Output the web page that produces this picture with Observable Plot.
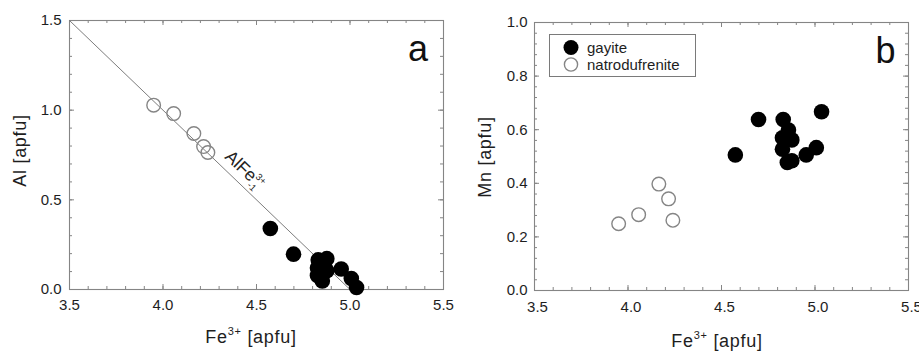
<!DOCTYPE html>
<html><head><meta charset="utf-8">
<script src="https://cdn.jsdelivr.net/npm/d3@7"></script>
<script src="https://cdn.jsdelivr.net/npm/@observablehq/plot@0.6"></script>
<style>
html,body{margin:0;padding:0;background:#fff;overflow:hidden;}
#wrap{position:relative;width:919px;height:352px;font-family:"Liberation Sans",Arial,sans-serif;}
#wrap > svg{position:absolute;top:0;overflow:visible;}
#legend{position:absolute;left:549px;top:34px;width:147px;height:43px;box-sizing:border-box;border:1px solid #7a7a7a;background:#fff;}
#legend svg{position:absolute;left:0;top:0;}
</style></head><body><div id="wrap"></div>
<script>
// ---- data ----
const seriesNames = ["gayite", "natrodufrenite"];
const feGayite = [4.574, 4.698, 4.830, 4.858, 4.826, 4.876, 4.826, 4.852, 4.876, 4.953, 5.007, 5.035];
const alGayite = [0.340, 0.197, 0.165, 0.130, 0.120, 0.172, 0.078, 0.048, 0.105, 0.114, 0.061, 0.011];
const mnGayite = [0.506, 0.638, 0.638, 0.599, 0.570, 0.562, 0.527, 0.478, 0.484, 0.506, 0.533, 0.667];
const feNatro = [3.950, 4.057, 4.165, 4.217, 4.240];
const alNatro = [1.028, 0.981, 0.870, 0.797, 0.764];
const mnNatro = [0.249, 0.283, 0.397, 0.342, 0.262];
// exchange vector line Al + Fe3+ = 5 (AlFe3+_-1)
const lineFe = [3.5, 5.0];
const lineAl = [1.5, 0.0];
// tick labels
const xTicks = [3.5, 4.0, 4.5, 5.0, 5.5];
const yTicksA = [0.0, 0.5, 1.0, 1.5];
const yTicksB = [0.0, 0.2, 0.4, 0.6, 0.8, 1.0];
const panelLetters = ["a", "b"];

const gayite = feGayite.map((fe, i) => ({fe, al: alGayite[i], mn: mnGayite[i]}));
const natro = feNatro.map((fe, i) => ({fe, al: alNatro[i], mn: mnNatro[i]}));
const exLine = lineFe.map((fe, i) => ({fe, al: lineAl[i]}));

const GRAY = "#858585";
const TXT = "#1e1e1e";

function minors(lo, hi, step) {
  const n = Math.round((hi - lo) / step);
  return d3.range(n + 1).map(i => +(lo + i * step).toFixed(4));
}

function makePanel(o) {
  const iw = o.width - o.marginLeft - o.marginRight;
  const ih = o.height - o.marginTop - o.marginBottom;
  const xMin = minors(3.5, 5.5, 0.1);
  const yMin = minors(o.yDomain[0], o.yDomain[1], o.yMinorStep);
  const marks = [
    Plot.tickX(xMin, {x: d => d, insetTop: ih - 3, stroke: GRAY}),
    Plot.tickX(xMin, {x: d => d, insetBottom: ih - 3, stroke: GRAY}),
    Plot.tickX(xTicks, {x: d => d, insetTop: ih - 5, stroke: GRAY}),
    Plot.tickX(xTicks, {x: d => d, insetBottom: ih - 5, stroke: GRAY}),
    Plot.tickY(yMin, {y: d => d, insetRight: iw - 3, stroke: GRAY}),
    Plot.tickY(yMin, {y: d => d, insetLeft: iw - 3, stroke: GRAY}),
    Plot.tickY(o.yTicks, {y: d => d, insetRight: iw - 5, stroke: GRAY}),
    Plot.tickY(o.yTicks, {y: d => d, insetLeft: iw - 5, stroke: GRAY}),
    Plot.frame({stroke: GRAY, strokeWidth: 1.1}),
    Plot.axisX(xTicks, {tickSize: 0, tickPadding: o.xTickPad, dx: o.xDx, tickFormat: d => d.toFixed(1), label: null, fontSize: 15, fill: TXT}),
    Plot.axisY(o.yTicks, {tickSize: 0, tickPadding: o.yTickPad, tickFormat: d => d.toFixed(1), label: null, fontSize: 15, fill: TXT}),
    ...(o.extra || []),
    Plot.dot(natro, {x: "fe", y: o.yKey, r: 6.8, stroke: GRAY, strokeWidth: 1.4, fill: "none"}),
    Plot.dot(gayite, {x: "fe", y: o.yKey, r: 7.8, fill: "#000", stroke: "none"}),
    Plot.text([o.letter], {text: d => d, frameAnchor: "top-right", textAnchor: "end", lineAnchor: "top", dx: o.letterDx, dy: 15, fontSize: 36, fill: "#111"})
  ];
  const plot = Plot.plot({
    width: o.width, height: o.height,
    marginLeft: o.marginLeft, marginRight: o.marginRight,
    marginTop: o.marginTop, marginBottom: o.marginBottom,
    x: {domain: [3.5, 5.5]},
    y: {domain: o.yDomain},
    style: {fontFamily: '"Liberation Sans", Arial, sans-serif', background: "transparent", overflow: "visible"},
    marks
  });
  plot.style.left = o.left + "px";
  const svg = d3.select(plot);
  // x axis label with superscript
  const cx = o.marginLeft + iw / 2 + o.xLabelShift;
  const xl = svg.append("text").attr("x", cx).attr("y", o.xLabelY)
    .attr("text-anchor", "middle").attr("fill", TXT)
    .style("font-size", "18px").style("letter-spacing", "0.7px");
  xl.append("tspan").text("Fe");
  xl.append("tspan").attr("dy", -8).style("font-size", "11px").text("3+");
  xl.append("tspan").attr("dy", 8).text(" [apfu]");
  // y axis label
  svg.append("text")
    .attr("transform", `translate(${o.yLabelX},${o.marginTop + ih / 2 + o.yLabelShift}) rotate(-90)`)
    .attr("text-anchor", "middle").attr("fill", TXT)
    .style("font-size", "18px").style("letter-spacing", "0.7px")
    .text(o.yLabel);
  return plot;
}

const wrap = document.getElementById("wrap");

const lineLabelPos = {fe: 4.39, al: 0.61};
const pA = makePanel({
  left: 0, width: 460, height: 352,
  marginLeft: 69, marginRight: 17, marginTop: 20, marginBottom: 63,
  yDomain: [0, 1.5], yTicks: yTicksA, yMinorStep: 0.1, yKey: "al",
  xTickPad: 10, yTickPad: 8, xDx: 0,
  letter: panelLetters[0], letterDx: -15.5,
  xLabelY: 343, xLabelShift: -5, yLabelX: 26, yLabelShift: -4, yLabel: "Al [apfu]",
  extra: [Plot.line(exLine, {x: "fe", y: "al", stroke: "#7d7d7d", strokeWidth: 1})]
});
wrap.appendChild(pA);
{
  const xs = pA.scale("x"), ys = pA.scale("y");
  const ang = Math.atan2(ys.apply(lineAl[1]) - ys.apply(lineAl[0]), xs.apply(lineFe[1]) - xs.apply(lineFe[0])) * 180 / Math.PI;
  const px = xs.apply(lineLabelPos.fe), py = ys.apply(lineLabelPos.al);
  const t = d3.select(pA).append("text")
    .attr("transform", `translate(${px},${py}) rotate(${ang})`)
    .attr("y", -8).attr("text-anchor", "middle").attr("fill", "#222")
    .style("font-size", "17.5px");
  t.append("tspan").text("AlFe");
  t.append("tspan").attr("dy", -7).style("font-size", "9.5px").text("3+");
  t.append("tspan").attr("dx", -11).attr("dy", 12).style("font-size", "9.5px").text("-1");
}

const pB = makePanel({
  left: 460, width: 459, height: 352,
  marginLeft: 74, marginRight: 11, marginTop: 22, marginBottom: 62,
  yDomain: [0, 1.0], yTicks: yTicksB, yMinorStep: 0.04, yKey: "mn",
  xTickPad: 11, yTickPad: 7, xDx: 3,
  letter: panelLetters[1], letterDx: -13,
  xLabelY: 346.5, xLabelShift: -4, yLabelX: 31, yLabelShift: 1, yLabel: "Mn [apfu]"
});
wrap.appendChild(pB);

// legend
const leg = document.createElement("div");
leg.id = "legend";
wrap.appendChild(leg);
const ls = d3.select(leg).append("svg").attr("width", 147).attr("height", 43);
const legItems = [
  {name: seriesNames[0], fill: "#000", stroke: "none", r: 7.5},
  {name: seriesNames[1], fill: "none", stroke: GRAY, r: 6.6}
];
legItems.forEach((it, i) => {
  const cy = 12.5 + i * 17;
  ls.append("circle").attr("cx", 21).attr("cy", cy).attr("r", it.r)
    .attr("fill", it.fill).attr("stroke", it.stroke).attr("stroke-width", 1.4);
  ls.append("text").attr("x", 37).attr("y", cy).attr("dy", "0.35em")
    .attr("fill", TXT).style("font-size", "15px").text(it.name);
});
</script>
</body></html>
